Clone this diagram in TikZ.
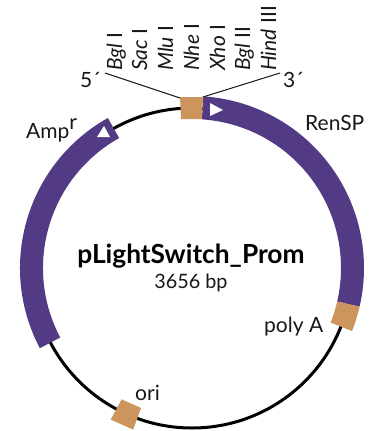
\documentclass[tikz,border=0pt]{standalone}
\usepackage{fontspec}
\setmainfont{Lato}
\definecolor{bandpurple}{HTML}{533A84}
\definecolor{sitetan}{HTML}{CB955D}
\definecolor{ink}{HTML}{1A1718}
\tikzset{
  backbone/.style={draw=black,line width=3pt},
  band/.style={fill=bandpurple,draw=none},
  site/.style={fill=sitetan,draw=none},
  arrowmark/.style={fill=white,draw=none},
  leader/.style={draw=ink,line width=1pt},
  lab/.style={text=ink,font=\fontsize{21}{25}\selectfont,inner sep=0pt},
  enzyme/.style={text=ink,font=\fontsize{21}{25}\selectfont,inner sep=0pt,rotate=90,anchor=base west},
}
\begin{document}
\begin{tikzpicture}[x=1pt,y=-1pt]
\useasboundingbox (0,0) rectangle (374,431);
\fill[white] (0,0) rectangle (374,431);
\begin{scope}[shift={(192,268)},y=1pt]
\draw[backbone] (0,0) circle[radius=160pt];
% RenSP
\fill[band] (86.2:149) arc[start angle=86.2,end angle=-13,radius=149pt] -- (-13:172) arc[start angle=-13,end angle=86.2,radius=172pt] -- cycle;
% poly A
\fill[site] (-13:149) arc[start angle=-13,end angle=-21.5,radius=149pt] -- (-21.5:172) arc[start angle=-21.5,end angle=-13,radius=172pt] -- cycle;
% AmpR
\fill[band] (119.3:149) arc[start angle=119.3,end angle=207.8,radius=149pt] -- (207.8:172) arc[start angle=207.8,end angle=119.3,radius=172pt] -- cycle;
% ori
\fill[site] (241.8:149) -- (241.8:172) -- (250:172) -- (250:149) -- cycle;
\end{scope}
% MCS box
\fill[site] (180,97) -- (203,97) -- (202,119) -- (181,119) -- cycle;
% direction marks
\fill[arrowmark] (210,103) -- (223,110) -- (210,116) -- cycle;
\fill[arrowmark] (97,137) -- (110,137) -- (104,126) -- cycle;
% leaders
\coordinate (mcsL) at (180,98);
\coordinate (mcsR) at (203,97);
\node[lab,anchor=base east] (five) at (101,87) {5´};
\node[lab,anchor=base west] (three) at (283,87) {3´};
\coordinate (fiveEnd) at (105,73);
\coordinate (threeEnd) at (280,73);
\draw[leader] (fiveEnd) -- (mcsL);
\draw[leader] (threeEnd) -- (mcsR);
% enzymes
\node[enzyme] (e1) at (122,71) {\itshape Bgl\/\upshape\ I};
\node[enzyme] (e2) at (147,71) {\itshape Sac\/\upshape\ I};
\node[enzyme] (e3) at (173,71) {\itshape Mlu\/\upshape\ I};
\node[enzyme] (e4) at (199,71) {\itshape Nhe\/\upshape\ I};
\node[enzyme] (e5) at (225,71) {\itshape Xho\/\upshape\ I};
\node[enzyme] (e6) at (250,71) {\itshape Bgl\/\upshape\ II};
\node[enzyme] (e7) at (276,71) {\itshape Hind\/\upshape\ III};
% labels
\node[lab,anchor=base west] (amp) at (26,138) {Amp\raisebox{9pt}{r}};
\node[lab,anchor=base west] (ren) at (305,130) {RenSP};
\node[lab,anchor=base west] (poly) at (264,332) {poly A};
\node[lab,anchor=base west] (ori) at (135,400) {ori};
\node[text=black,font=\fontsize{26.3}{30}\bfseries\selectfont,inner sep=0pt,anchor=base] (title) at (191,263) {pLightSwitch\_Prom};
\node[text=ink,font=\fontsize{19.8}{24}\selectfont,inner sep=0pt,anchor=base] (size) at (191,288) {3656 bp};
\end{tikzpicture}
\end{document}
